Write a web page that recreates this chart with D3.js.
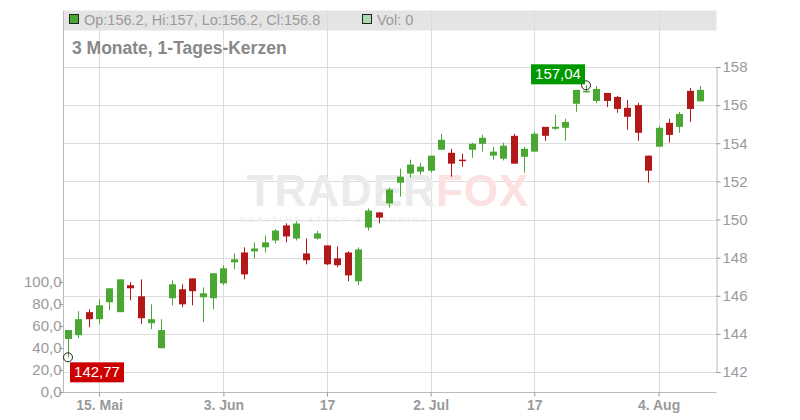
<!DOCTYPE html>
<html>
<head>
<meta charset="utf-8">
<script src="https://cdn.jsdelivr.net/npm/d3@7"></script>
<style>
  body { margin: 0; background: #fff; font-family: "Liberation Sans", Arial, sans-serif; }
</style>
</head>
<body>
<div id="chart"></div>
<script>
// daily candles
const opens  = [143.73,143.93,145.14,144.77,145.66,145.14,146.55,145.97,144.56,143.25,145.87,146.34,146.91,145.92,145.87,146.65,147.75,148.27,148.33,148.54,148.9,149.69,149.0,148.22,149.0,148.64,147.96,148.27,146.76,149.58,150.37,150.84,151.93,152.41,152.51,152.56,153.66,153.5,153.14,153.66,153.97,153.35,153.19,154.39,153.29,153.56,154.86,154.76,154.81,156.07,156.7,156.22,156.64,156.43,155.86,156.0,153.35,153.82,155.07,154.86,156.75,156.2];
const highs  = [144.2,145.19,145.29,145.82,146.4,146.86,146.71,146.86,145.55,144.77,146.81,146.6,146.91,146.44,147.18,147.59,148.22,148.54,148.8,149.16,149.5,149.8,149.9,149.0,149.4,148.64,148.59,148.33,148.54,150.58,150.4,151.67,152.67,153.14,152.98,153.35,154.5,153.71,153.45,154.03,154.44,153.82,154.03,154.5,153.82,154.6,154.86,155.49,155.28,156.8,157.04,157.0,156.64,156.48,156.27,156.12,153.35,154.9,155.28,155.65,156.9,157.0];
const lows   = [142.77,143.78,144.35,144.51,145.24,145.14,145.76,144.51,144.25,143.25,145.5,145.4,145.5,144.61,145.29,146.55,147.39,146.86,147.96,148.27,148.75,148.8,148.9,147.65,148.95,147.6,147.5,146.76,146.55,149.42,149.8,150.63,151.2,152.2,152.35,152.46,153.66,152.25,152.77,153.24,153.56,153.14,153.1,152.93,152.46,153.56,154.13,154.7,154.13,155.65,156.64,156.1,155.9,155.6,154.7,154.13,151.93,153.82,154.03,154.55,155.12,156.2];
const closes = [144.2,144.77,144.77,145.5,146.39,146.86,146.39,144.82,144.77,144.2,146.6,145.55,146.24,146.13,147.18,147.44,147.91,147.12,148.48,148.8,149.42,149.11,149.79,147.86,149.27,147.65,147.6,147.07,148.43,150.47,150.1,151.57,152.25,152.88,152.77,153.35,154.18,152.93,153.08,153.97,154.29,153.56,153.87,152.93,153.71,154.5,154.39,154.86,155.12,156.8,156.75,156.85,156.22,155.8,155.39,154.55,152.56,154.81,154.44,155.54,155.8,156.8];
const volumes = opens.map(() => 0);

const dateTickIdx = [3, 15, 25, 35, 45, 57];
const dateTickLabels = ["15. Mai", "3. Jun", "17", "2. Jul", "17", "4. Aug"];
const priceTicks = [142, 144, 146, 148, 150, 152, 154, 156, 158];
const volTicks = [0, 20, 40, 60, 80, 100];

const W = 800, H = 420;
const pLeft = 63.5, pRight = 716.5, pTop = 10.5, pBottom = 392.5;
const green = "#4aa832", red = "#b31818", grid = "#dcdcdc", txt = "#9a9a9a";

const svg = d3.select("#chart").append("svg").attr("width", W).attr("height", H);

const x = d3.scaleLinear().domain([0, opens.length - 1]).range([68, 700]);
const y = d3.scaleLinear().domain([142, 158]).range([372, 67]);
const yVol = d3.scaleLinear().domain([0, 100]).range([392, 282]);

// header band
svg.append("rect").attr("x", pLeft).attr("y", pTop).attr("width", pRight - pLeft).attr("height", 20).attr("fill", "#e4e4e4");

// grid
svg.append("g").selectAll("line").data(priceTicks).join("line")
  .attr("x1", pLeft).attr("x2", pRight)
  .attr("y1", d => Math.round(y(d)) + 0.5).attr("y2", d => Math.round(y(d)) + 0.5)
  .attr("stroke", grid);
svg.append("g").selectAll("line").data(dateTickIdx).join("line")
  .attr("x1", d => Math.round(x(d)) + 0.5).attr("x2", d => Math.round(x(d)) + 0.5)
  .attr("y1", pTop).attr("y2", pBottom)
  .attr("stroke", grid);

// watermark
const wm = svg.append("text").attr("x", 388).attr("y", 206).attr("text-anchor", "middle")
  .style("font-size", "44px").style("font-weight", "bold").style("letter-spacing", "1px");
wm.append("tspan").attr("fill", "#ebebeb").text("TRADER");
wm.append("tspan").attr("fill", "#fbe1e1").text("FOX");
svg.append("text").attr("x", 335).attr("y", 222).attr("text-anchor", "middle")
  .style("font-size", "8px").style("letter-spacing", "3px")
  .attr("fill", "#ebebeb").text("REALTIME STOCK SCREENING");

// right price axis
const yAxis = d3.axisRight(y).tickValues(priceTicks).tickSize(4).tickFormat(d3.format("d"));
const gy = svg.append("g").attr("transform", `translate(${pRight},0)`).call(yAxis);
gy.select(".domain").attr("stroke", "#bbb");
gy.selectAll(".tick line").attr("stroke", "#999");
gy.selectAll("text").attr("fill", txt).style("font-size", "15px").attr("x", 6);

// left volume axis
const vAxis = d3.axisLeft(yVol).tickValues(volTicks).tickSize(4).tickFormat(d => d3.format(".1f")(d).replace(".", ","));
const gv = svg.append("g").attr("transform", `translate(${pLeft},0)`).call(vAxis);
gv.select(".domain").remove();
gv.selectAll(".tick line").attr("stroke", "#999");
gv.selectAll("text").attr("fill", txt).style("font-size", "15px").attr("x", -2);
svg.append("line").attr("x1", pLeft).attr("x2", pLeft).attr("y1", pTop).attr("y2", pBottom).attr("stroke", "#bbb");

// bottom axis
const xAxis = d3.axisBottom(x).tickValues(dateTickIdx).tickSize(4).tickFormat((d, i) => dateTickLabels[i]);
const gx = svg.append("g").attr("transform", `translate(0,${pBottom})`).call(xAxis);
gx.select(".domain").attr("stroke", "#bbb").attr("d", `M${pLeft},0H${pRight}`);
gx.selectAll(".tick line").attr("stroke", "#999");
gx.selectAll("text").attr("fill", txt).style("font-size", "14px").style("font-weight", "bold").attr("y", 8);

// candles
const data = opens.map((o, i) => ({ i, o, h: highs[i], l: lows[i], c: closes[i] }));
const bw = 7;
const cg = svg.append("g");
cg.selectAll("line").data(data).join("line")
  .attr("x1", d => Math.round(x(d.i)) + 0.5).attr("x2", d => Math.round(x(d.i)) + 0.5)
  .attr("y1", d => y(d.h)).attr("y2", d => y(d.l))
  .attr("stroke", d => d.c >= d.o ? green : red).attr("stroke-width", 1);
cg.selectAll("rect").data(data).join("rect")
  .attr("x", d => Math.round(x(d.i)) - bw / 2 + 0.5)
  .attr("y", d => y(Math.max(d.o, d.c)))
  .attr("width", bw)
  .attr("height", d => Math.max(1.5, Math.abs(y(d.o) - y(d.c))))
  .attr("fill", d => d.c >= d.o ? green : red);

// min / max markers
const iMin = d3.minIndex(lows), iMax = d3.maxIndex(highs);
function marker(i, v, col, boxX, boxY) {
  svg.append("circle").attr("cx", x(i)).attr("cy", y(v)).attr("r", 4.5)
    .attr("fill", "none").attr("stroke", "#222").attr("stroke-width", 1);
  const label = d3.format(".2f")(v).replace(".", ",");
  svg.append("rect").attr("x", boxX).attr("y", boxY).attr("width", 54).attr("height", 20).attr("fill", col);
  svg.append("text").attr("x", boxX + 27).attr("y", boxY + 15).attr("text-anchor", "middle")
    .attr("fill", "#fff").style("font-size", "15px").text(label);
}
marker(iMin, lows[iMin], "#cc0000", x(iMin) + 2, y(lows[iMin]) + 5);
marker(iMax, highs[iMax], "#009900", x(iMax) - 55, y(highs[iMax]) - 21);

// header text
svg.append("rect").attr("x", 69.5).attr("y", 14.5).attr("width", 9).attr("height", 9)
  .attr("fill", green).attr("stroke", "#222");
const last = opens.length - 1;
svg.append("text").attr("x", 84).attr("y", 25).attr("fill", txt).style("font-size", "14.5px")
  .text(`Op:${opens[last]}, Hi:${highs[last]}, Lo:${lows[last]}, Cl:${closes[last]}`);
svg.append("rect").attr("x", 362.5).attr("y", 14.5).attr("width", 9).attr("height", 9)
  .attr("fill", "#a8dca8").attr("stroke", "#222");
svg.append("text").attr("x", 377).attr("y", 25).attr("fill", txt).style("font-size", "14.5px")
  .text(`Vol: ${volumes[last]}`);

svg.append("text").attr("x", 72).attr("y", 54).attr("fill", "#888").style("font-size", "17.5px")
  .style("font-weight", "bold").text("3 Monate, 1-Tages-Kerzen");
</script>
</body>
</html>
